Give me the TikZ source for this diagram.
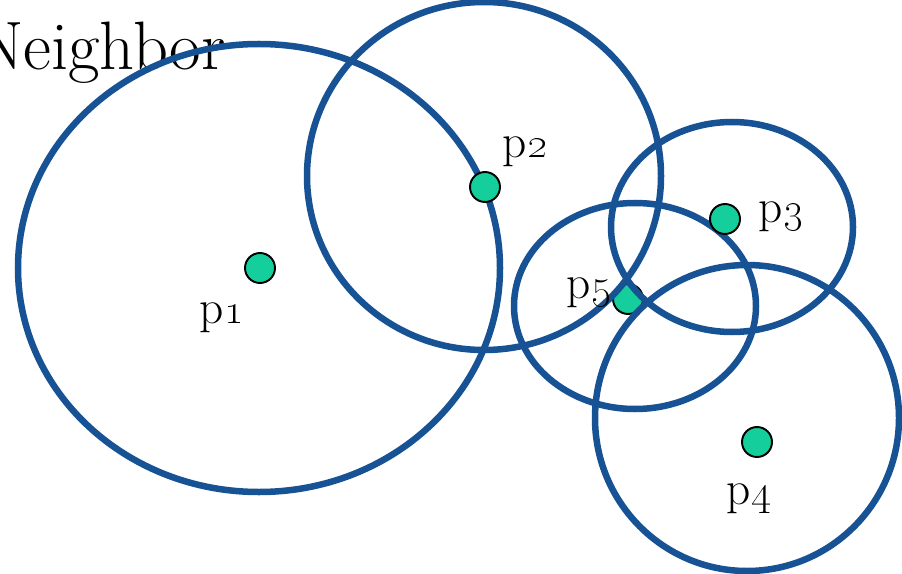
\documentclass[tikz,border=0pt]{standalone}
\usepackage{xcolor}
\usepackage{tikz}
\definecolor{ringblue}{RGB}{22,82,148}
\definecolor{dotgreen}{RGB}{20,206,156}

\begin{document}
\begin{tikzpicture}[
  x=0.02cm, y=-0.02cm,
  ring/.style={draw=ringblue, line width=3.7pt},
  dotnode/.style={circle, draw=black, fill=dotgreen, line width=1.1pt,
                  minimum size=0.6cm, inner sep=0pt},
  lbl/.style={anchor=base, inner sep=0pt, font=\fontsize{27}{32}\selectfont},
]
  \fill[white] (0,0) rectangle (902,574);
  \useasboundingbox (0,0) rectangle (902,574);
  \clip (0,0) rectangle (902,574);

  \node[anchor=base east, inner sep=0pt, font=\fontsize{39}{46}\selectfont]
    (title) at (226,70) {Neighbor};

  % p5 sits under the rings
  \node[dotnode] (p5) at (628,299) {};

  \draw[ring] (259,268) ellipse [x radius=241, y radius=224];
  \draw[ring] (484,176) ellipse [x radius=177, y radius=174];
  \draw[ring] (732,227) ellipse [x radius=121, y radius=105];
  \draw[ring] (635,306) ellipse [x radius=121, y radius=103];
  \draw[ring] (747,418) ellipse [x radius=152, y radius=153];

  \node[dotnode] (p1) at (260,268) {};
  \node[dotnode] (p2) at (485,187) {};
  \node[dotnode] (p3) at (725,219) {};
  \node[dotnode] (p4) at (757,442) {};

  \node[lbl] (p1lbl) at (222,323) {p\oldstylenums{1}};
  \node[lbl] (p2lbl) at (525,158) {p\oldstylenums{2}};
  \node[lbl] (p3lbl) at (781,222) {p\oldstylenums{3}};
  \node[lbl] (p5lbl) at (589,298) {p\oldstylenums{5}};
  \node[lbl] (p4lbl) at (749,504) {p\oldstylenums{4}};
\end{tikzpicture}
\end{document}
